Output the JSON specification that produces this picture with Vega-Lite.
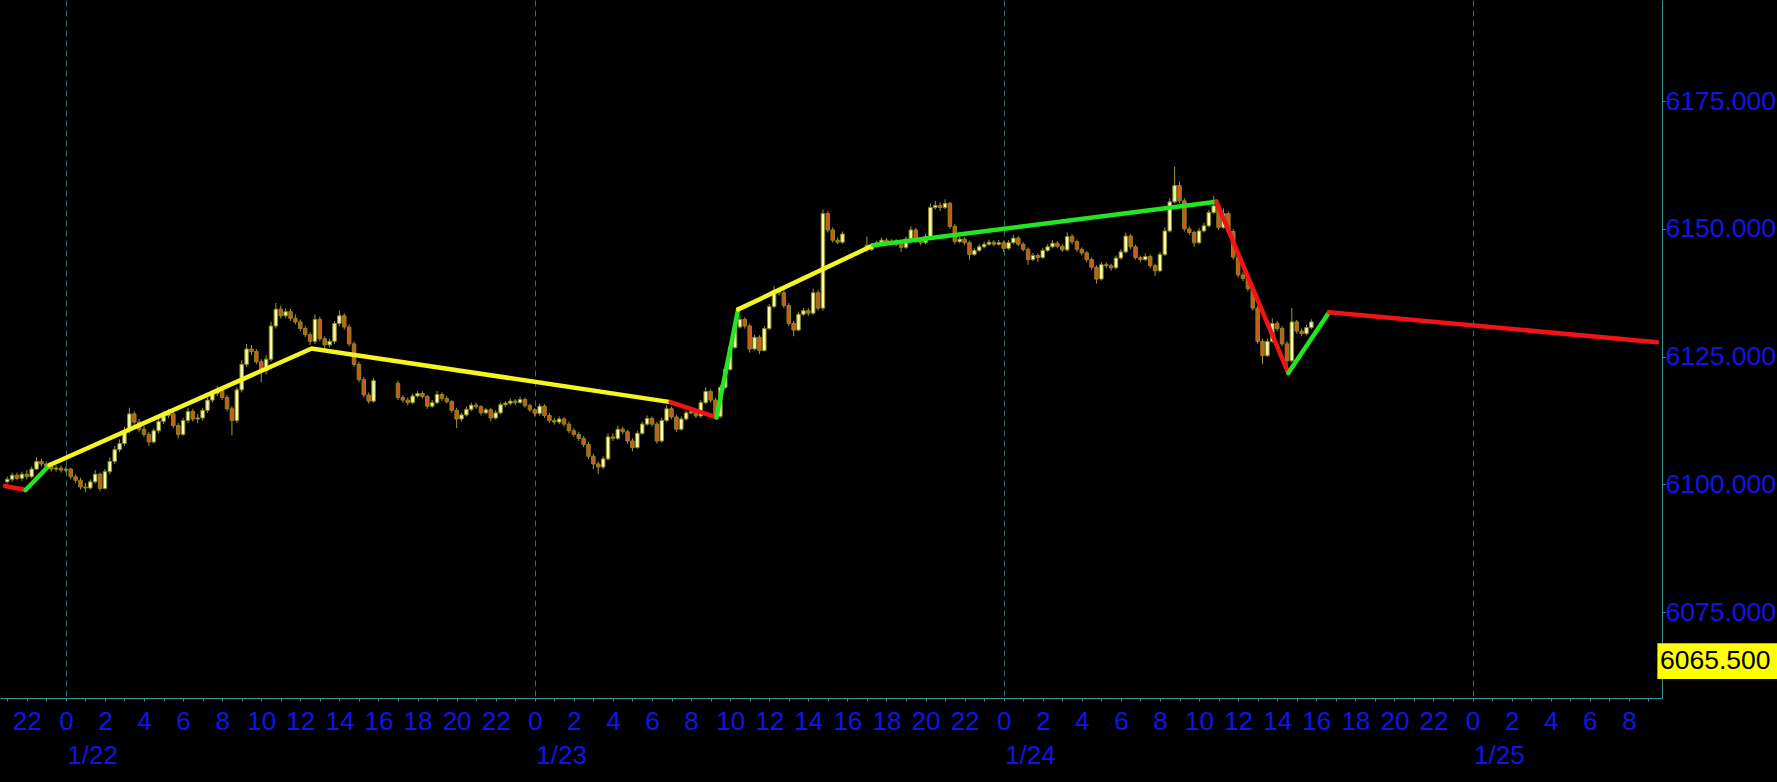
{
  "$schema": "https://vega.github.io/schema/vega-lite/v6.json",
  "width": 1662,
  "height": 698,
  "autosize": {"type": "none"},
  "padding": {"left": 0, "top": 0, "right": 115, "bottom": 84},
  "background": "#000000",
  "config": {"view": {"stroke": null}},
  "datasets": {
    "bars": [
      {"t":-3,"o":6100.5,"h":6101.5,"l":6100.2,"c":6101.0},
      {"t":-2.75,"o":6101.0,"h":6102.3,"l":6100.5,"c":6101.8},
      {"t":-2.5,"o":6101.8,"h":6102.3,"l":6100.8,"c":6101.2},
      {"t":-2.25,"o":6101.2,"h":6102.5,"l":6100.7,"c":6102.0},
      {"t":-2,"o":6102.0,"h":6102.8,"l":6101.0,"c":6101.5},
      {"t":-1.75,"o":6101.5,"h":6103.5,"l":6101.2,"c":6103.0},
      {"t":-1.5,"o":6103.0,"h":6105.3,"l":6102.8,"c":6104.5},
      {"t":-1.25,"o":6104.5,"h":6105.0,"l":6103.5,"c":6104.0},
      {"t":-1,"o":6104.0,"h":6104.5,"l":6103.0,"c":6103.5},
      {"t":-0.75,"o":6103.5,"h":6104.0,"l":6102.5,"c":6103.0},
      {"t":-0.5,"o":6103.0,"h":6103.8,"l":6102.5,"c":6103.2},
      {"t":-0.25,"o":6103.2,"h":6103.7,"l":6102.3,"c":6102.8},
      {"t":0,"o":6102.8,"h":6103.5,"l":6102.3,"c":6103.0},
      {"t":0.25,"o":6103.0,"h":6103.3,"l":6101.0,"c":6101.5},
      {"t":0.5,"o":6101.5,"h":6102.0,"l":6100.3,"c":6100.8},
      {"t":0.75,"o":6100.8,"h":6101.3,"l":6099.0,"c":6099.5},
      {"t":1,"o":6099.5,"h":6100.3,"l":6098.5,"c":6099.3},
      {"t":1.25,"o":6099.3,"h":6101.0,"l":6099.0,"c":6100.5},
      {"t":1.5,"o":6100.5,"h":6102.8,"l":6100.2,"c":6102.0},
      {"t":1.75,"o":6102.0,"h":6102.3,"l":6098.7,"c":6099.2},
      {"t":2,"o":6099.2,"h":6103.0,"l":6099.0,"c":6102.5},
      {"t":2.25,"o":6102.5,"h":6105.3,"l":6102.0,"c":6104.5},
      {"t":2.5,"o":6104.5,"h":6107.5,"l":6104.0,"c":6106.8},
      {"t":2.75,"o":6106.8,"h":6108.8,"l":6106.3,"c":6108.0},
      {"t":3,"o":6108.0,"h":6111.3,"l":6107.5,"c":6110.5},
      {"t":3.25,"o":6110.5,"h":6115.0,"l":6110.0,"c":6113.8},
      {"t":3.5,"o":6113.8,"h":6114.3,"l":6111.5,"c":6112.2},
      {"t":3.75,"o":6112.2,"h":6112.8,"l":6110.3,"c":6110.8},
      {"t":4,"o":6110.8,"h":6111.5,"l":6109.3,"c":6109.8},
      {"t":4.25,"o":6109.8,"h":6110.3,"l":6107.5,"c":6108.3},
      {"t":4.5,"o":6108.3,"h":6111.0,"l":6108.0,"c":6110.5},
      {"t":4.75,"o":6110.5,"h":6113.0,"l":6110.0,"c":6112.3},
      {"t":5,"o":6112.3,"h":6114.3,"l":6111.8,"c":6113.5},
      {"t":5.25,"o":6113.5,"h":6114.8,"l":6113.0,"c":6113.8},
      {"t":5.5,"o":6113.8,"h":6114.3,"l":6111.0,"c":6111.5},
      {"t":5.75,"o":6111.5,"h":6112.0,"l":6109.0,"c":6109.8},
      {"t":6,"o":6109.8,"h":6113.0,"l":6109.5,"c":6112.5},
      {"t":6.25,"o":6112.5,"h":6115.0,"l":6112.0,"c":6114.3},
      {"t":6.5,"o":6114.3,"h":6114.8,"l":6112.3,"c":6112.8},
      {"t":6.75,"o":6112.8,"h":6113.8,"l":6112.0,"c":6113.0},
      {"t":7,"o":6113.0,"h":6115.0,"l":6112.5,"c":6114.5},
      {"t":7.25,"o":6114.5,"h":6117.0,"l":6114.0,"c":6116.5},
      {"t":7.5,"o":6116.5,"h":6118.5,"l":6116.0,"c":6117.8},
      {"t":7.75,"o":6117.8,"h":6119.3,"l":6117.3,"c":6118.5},
      {"t":8,"o":6118.5,"h":6119.0,"l":6116.5,"c":6117.0},
      {"t":8.25,"o":6117.0,"h":6117.5,"l":6114.3,"c":6114.8},
      {"t":8.5,"o":6114.8,"h":6115.3,"l":6109.6,"c":6112.5},
      {"t":8.75,"o":6112.5,"h":6119.0,"l":6112.0,"c":6118.5},
      {"t":9,"o":6118.5,"h":6124.3,"l":6118.0,"c":6123.5},
      {"t":9.25,"o":6123.5,"h":6127.5,"l":6123.0,"c":6126.5},
      {"t":9.5,"o":6126.5,"h":6127.3,"l":6125.3,"c":6126.0},
      {"t":9.75,"o":6126.0,"h":6126.5,"l":6123.5,"c":6124.0},
      {"t":10,"o":6124.0,"h":6124.5,"l":6120.0,"c":6122.2},
      {"t":10.25,"o":6122.2,"h":6125.3,"l":6121.5,"c":6124.5},
      {"t":10.5,"o":6124.5,"h":6131.8,"l":6124.0,"c":6131.0},
      {"t":10.75,"o":6131.0,"h":6135.5,"l":6130.5,"c":6134.3},
      {"t":11,"o":6134.3,"h":6135.0,"l":6132.5,"c":6133.0},
      {"t":11.25,"o":6133.0,"h":6134.5,"l":6132.5,"c":6133.8},
      {"t":11.5,"o":6133.8,"h":6134.3,"l":6132.0,"c":6132.5},
      {"t":11.75,"o":6132.5,"h":6133.3,"l":6131.3,"c":6131.8},
      {"t":12,"o":6131.8,"h":6132.3,"l":6130.0,"c":6130.5},
      {"t":12.25,"o":6130.5,"h":6131.0,"l":6128.8,"c":6129.3},
      {"t":12.5,"o":6129.3,"h":6129.8,"l":6127.3,"c":6128.0},
      {"t":12.75,"o":6128.0,"h":6133.3,"l":6127.5,"c":6132.3},
      {"t":13,"o":6132.3,"h":6132.8,"l":6128.0,"c":6128.5},
      {"t":13.25,"o":6128.5,"h":6129.0,"l":6126.5,"c":6127.3},
      {"t":13.5,"o":6127.3,"h":6128.5,"l":6126.8,"c":6128.0},
      {"t":13.75,"o":6128.0,"h":6132.0,"l":6127.5,"c":6131.5},
      {"t":14,"o":6131.5,"h":6134.0,"l":6131.0,"c":6133.0},
      {"t":14.25,"o":6133.0,"h":6133.5,"l":6130.3,"c":6130.8},
      {"t":14.5,"o":6130.8,"h":6131.3,"l":6127.0,"c":6127.5},
      {"t":14.75,"o":6127.5,"h":6128.0,"l":6123.0,"c":6123.5},
      {"t":15,"o":6123.5,"h":6124.0,"l":6120.0,"c":6120.5},
      {"t":15.25,"o":6120.5,"h":6121.0,"l":6117.0,"c":6117.5},
      {"t":15.5,"o":6117.5,"h":6118.0,"l":6115.8,"c":6116.3},
      {"t":15.75,"o":6116.3,"h":6120.8,"l":6116.0,"c":6120.3},
      {"t":17,"o":6119.8,"h":6120.3,"l":6116.5,"c":6117.0},
      {"t":17.25,"o":6117.0,"h":6117.5,"l":6116.0,"c":6116.5},
      {"t":17.5,"o":6116.5,"h":6117.0,"l":6115.5,"c":6116.0},
      {"t":17.75,"o":6116.0,"h":6117.8,"l":6115.7,"c":6117.3},
      {"t":18,"o":6117.3,"h":6118.3,"l":6117.0,"c":6117.8},
      {"t":18.25,"o":6117.8,"h":6118.2,"l":6116.8,"c":6117.2},
      {"t":18.5,"o":6117.2,"h":6117.5,"l":6114.8,"c":6115.3},
      {"t":18.75,"o":6115.3,"h":6116.5,"l":6115.0,"c":6116.0},
      {"t":19,"o":6116.0,"h":6118.3,"l":6115.7,"c":6117.6},
      {"t":19.25,"o":6117.6,"h":6118.0,"l":6116.3,"c":6116.8},
      {"t":19.5,"o":6116.8,"h":6117.3,"l":6115.8,"c":6116.2},
      {"t":19.75,"o":6116.2,"h":6116.5,"l":6114.0,"c":6114.5},
      {"t":20,"o":6114.5,"h":6115.0,"l":6111.0,"c":6112.8},
      {"t":20.25,"o":6112.8,"h":6114.0,"l":6112.3,"c":6113.6},
      {"t":20.5,"o":6113.6,"h":6115.3,"l":6113.3,"c":6114.7},
      {"t":20.75,"o":6114.7,"h":6116.0,"l":6114.3,"c":6115.5},
      {"t":21,"o":6115.5,"h":6116.0,"l":6114.8,"c":6115.2},
      {"t":21.25,"o":6115.2,"h":6115.5,"l":6113.5,"c":6114.0},
      {"t":21.5,"o":6114.0,"h":6115.0,"l":6113.7,"c":6114.6},
      {"t":21.75,"o":6114.6,"h":6115.0,"l":6112.3,"c":6113.0},
      {"t":22,"o":6113.0,"h":6114.5,"l":6112.7,"c":6114.0},
      {"t":22.25,"o":6114.0,"h":6116.0,"l":6113.7,"c":6115.6},
      {"t":22.5,"o":6115.6,"h":6116.3,"l":6115.2,"c":6115.9},
      {"t":22.75,"o":6115.9,"h":6116.8,"l":6115.5,"c":6116.3},
      {"t":23,"o":6116.3,"h":6116.7,"l":6115.5,"c":6116.0},
      {"t":23.25,"o":6116.0,"h":6117.2,"l":6115.8,"c":6116.6},
      {"t":23.5,"o":6116.6,"h":6117.0,"l":6115.0,"c":6115.4},
      {"t":23.75,"o":6115.4,"h":6115.8,"l":6114.2,"c":6114.6},
      {"t":24,"o":6114.6,"h":6115.0,"l":6113.3,"c":6113.9},
      {"t":24.25,"o":6113.9,"h":6115.8,"l":6113.5,"c":6115.3},
      {"t":24.5,"o":6115.3,"h":6115.7,"l":6113.0,"c":6113.5},
      {"t":24.75,"o":6113.5,"h":6114.0,"l":6112.0,"c":6112.5},
      {"t":25,"o":6112.5,"h":6113.0,"l":6111.7,"c":6112.2},
      {"t":25.25,"o":6112.2,"h":6113.3,"l":6111.8,"c":6112.8},
      {"t":25.5,"o":6112.8,"h":6113.2,"l":6111.3,"c":6111.8},
      {"t":25.75,"o":6111.8,"h":6112.3,"l":6110.0,"c":6110.5},
      {"t":26,"o":6110.5,"h":6111.0,"l":6109.3,"c":6109.8},
      {"t":26.25,"o":6109.8,"h":6110.3,"l":6108.5,"c":6109.0},
      {"t":26.5,"o":6109.0,"h":6109.5,"l":6107.3,"c":6107.8},
      {"t":26.75,"o":6107.8,"h":6108.3,"l":6105.0,"c":6105.5},
      {"t":27,"o":6105.5,"h":6106.0,"l":6103.0,"c":6104.0},
      {"t":27.25,"o":6104.0,"h":6104.5,"l":6102.0,"c":6103.4},
      {"t":27.5,"o":6103.4,"h":6105.5,"l":6103.0,"c":6105.0},
      {"t":27.75,"o":6105.0,"h":6110.0,"l":6104.7,"c":6109.3},
      {"t":28,"o":6109.3,"h":6110.0,"l":6108.5,"c":6109.0},
      {"t":28.25,"o":6109.0,"h":6111.5,"l":6108.7,"c":6110.8},
      {"t":28.5,"o":6110.8,"h":6111.3,"l":6109.8,"c":6110.3},
      {"t":28.75,"o":6110.3,"h":6110.7,"l":6108.0,"c":6108.5},
      {"t":29,"o":6108.5,"h":6109.0,"l":6106.5,"c":6107.2},
      {"t":29.25,"o":6107.2,"h":6110.5,"l":6107.0,"c":6110.0},
      {"t":29.5,"o":6110.0,"h":6112.3,"l":6109.7,"c":6111.8},
      {"t":29.75,"o":6111.8,"h":6113.5,"l":6111.5,"c":6112.9},
      {"t":30,"o":6112.9,"h":6113.3,"l":6111.3,"c":6111.8},
      {"t":30.25,"o":6111.8,"h":6112.2,"l":6108.0,"c":6108.5},
      {"t":30.5,"o":6108.5,"h":6113.0,"l":6108.2,"c":6112.5},
      {"t":30.75,"o":6112.5,"h":6115.5,"l":6112.2,"c":6114.8},
      {"t":31,"o":6114.8,"h":6115.2,"l":6112.8,"c":6113.2},
      {"t":31.25,"o":6113.2,"h":6113.6,"l":6110.3,"c":6110.8},
      {"t":31.5,"o":6110.8,"h":6113.3,"l":6110.5,"c":6112.8},
      {"t":31.75,"o":6112.8,"h":6114.5,"l":6112.5,"c":6114.0},
      {"t":32,"o":6114.0,"h":6114.7,"l":6113.7,"c":6114.2},
      {"t":32.25,"o":6114.2,"h":6114.6,"l":6113.0,"c":6113.4},
      {"t":32.5,"o":6113.4,"h":6116.5,"l":6113.0,"c":6116.0},
      {"t":32.75,"o":6116.0,"h":6119.0,"l":6115.7,"c":6118.2},
      {"t":33,"o":6118.2,"h":6118.6,"l":6116.0,"c":6116.5},
      {"t":33.25,"o":6116.5,"h":6117.0,"l":6112.8,"c":6113.3},
      {"t":33.5,"o":6113.3,"h":6119.5,"l":6113.0,"c":6119.0},
      {"t":33.75,"o":6119.0,"h":6123.0,"l":6118.7,"c":6122.5},
      {"t":34,"o":6122.5,"h":6127.3,"l":6122.2,"c":6126.8},
      {"t":34.25,"o":6126.8,"h":6131.3,"l":6126.5,"c":6130.8},
      {"t":34.5,"o":6130.8,"h":6133.0,"l":6130.5,"c":6132.3},
      {"t":34.75,"o":6132.3,"h":6132.7,"l":6130.5,"c":6131.0},
      {"t":35,"o":6131.0,"h":6131.5,"l":6125.8,"c":6126.5},
      {"t":35.25,"o":6126.5,"h":6129.3,"l":6126.2,"c":6128.8},
      {"t":35.5,"o":6128.8,"h":6129.2,"l":6125.5,"c":6126.2},
      {"t":35.75,"o":6126.2,"h":6131.0,"l":6126.0,"c":6130.5},
      {"t":36,"o":6130.5,"h":6135.3,"l":6130.2,"c":6134.8},
      {"t":36.25,"o":6134.8,"h":6138.8,"l":6134.5,"c":6138.0},
      {"t":36.5,"o":6138.0,"h":6138.5,"l":6137.0,"c":6137.5},
      {"t":36.75,"o":6137.5,"h":6138.0,"l":6134.5,"c":6135.0},
      {"t":37,"o":6135.0,"h":6135.5,"l":6131.0,"c":6131.5},
      {"t":37.25,"o":6131.5,"h":6132.0,"l":6129.0,"c":6130.2},
      {"t":37.5,"o":6130.2,"h":6133.8,"l":6130.0,"c":6133.3},
      {"t":37.75,"o":6133.3,"h":6134.5,"l":6133.0,"c":6134.0},
      {"t":38,"o":6134.0,"h":6134.5,"l":6133.0,"c":6133.5},
      {"t":38.25,"o":6133.5,"h":6138.3,"l":6133.2,"c":6137.5},
      {"t":38.5,"o":6137.5,"h":6138.0,"l":6134.0,"c":6134.5},
      {"t":38.75,"o":6134.5,"h":6153.8,"l":6134.0,"c":6153.0},
      {"t":39,"o":6153.0,"h":6153.5,"l":6149.3,"c":6149.8},
      {"t":39.25,"o":6149.8,"h":6150.3,"l":6147.3,"c":6147.8},
      {"t":39.5,"o":6147.8,"h":6148.3,"l":6147.0,"c":6147.4},
      {"t":39.75,"o":6147.4,"h":6149.5,"l":6147.1,"c":6149.0},
      {"t":41,"o":6146.8,"h":6148.5,"l":6145.5,"c":6146.0},
      {"t":41.25,"o":6146.0,"h":6147.2,"l":6145.7,"c":6146.7},
      {"t":41.5,"o":6146.7,"h":6147.7,"l":6146.3,"c":6147.3},
      {"t":41.75,"o":6147.3,"h":6148.3,"l":6147.0,"c":6147.8},
      {"t":42,"o":6147.8,"h":6148.2,"l":6146.8,"c":6147.2},
      {"t":42.25,"o":6147.2,"h":6148.0,"l":6146.9,"c":6147.6},
      {"t":42.5,"o":6147.6,"h":6148.0,"l":6146.6,"c":6147.0},
      {"t":42.75,"o":6147.0,"h":6147.4,"l":6145.5,"c":6146.4},
      {"t":43,"o":6146.4,"h":6148.5,"l":6146.1,"c":6148.0},
      {"t":43.25,"o":6148.0,"h":6150.5,"l":6147.7,"c":6149.8},
      {"t":43.5,"o":6149.8,"h":6150.2,"l":6147.2,"c":6147.6},
      {"t":43.75,"o":6147.6,"h":6148.0,"l":6146.8,"c":6147.3},
      {"t":44,"o":6147.3,"h":6149.0,"l":6147.0,"c":6148.5},
      {"t":44.25,"o":6148.5,"h":6155.0,"l":6148.2,"c":6154.2},
      {"t":44.5,"o":6154.2,"h":6155.5,"l":6153.8,"c":6154.6},
      {"t":44.75,"o":6154.6,"h":6155.2,"l":6153.5,"c":6154.2},
      {"t":45,"o":6154.2,"h":6155.8,"l":6153.9,"c":6155.0},
      {"t":45.25,"o":6155.0,"h":6155.3,"l":6150.0,"c":6150.5},
      {"t":45.5,"o":6150.5,"h":6151.0,"l":6147.0,"c":6147.5},
      {"t":45.75,"o":6147.5,"h":6148.5,"l":6147.2,"c":6148.0},
      {"t":46,"o":6148.0,"h":6148.4,"l":6146.8,"c":6147.3},
      {"t":46.25,"o":6147.3,"h":6147.7,"l":6144.0,"c":6145.0},
      {"t":46.5,"o":6145.0,"h":6146.2,"l":6144.7,"c":6145.8},
      {"t":46.75,"o":6145.8,"h":6147.0,"l":6145.5,"c":6146.5},
      {"t":47,"o":6146.5,"h":6147.5,"l":6146.2,"c":6147.0},
      {"t":47.25,"o":6147.0,"h":6147.9,"l":6146.7,"c":6147.4},
      {"t":47.5,"o":6147.4,"h":6147.8,"l":6146.6,"c":6147.0},
      {"t":47.75,"o":6147.0,"h":6147.8,"l":6146.7,"c":6147.3},
      {"t":48,"o":6147.3,"h":6147.7,"l":6145.5,"c":6146.2},
      {"t":48.25,"o":6146.2,"h":6147.8,"l":6145.9,"c":6147.3},
      {"t":48.5,"o":6147.3,"h":6148.8,"l":6147.0,"c":6148.2},
      {"t":48.75,"o":6148.2,"h":6148.6,"l":6146.6,"c":6147.0},
      {"t":49,"o":6147.0,"h":6147.4,"l":6145.6,"c":6146.0},
      {"t":49.25,"o":6146.0,"h":6146.4,"l":6143.0,"c":6144.0},
      {"t":49.5,"o":6144.0,"h":6145.3,"l":6143.7,"c":6144.8},
      {"t":49.75,"o":6144.8,"h":6145.2,"l":6143.5,"c":6144.4},
      {"t":50,"o":6144.4,"h":6146.3,"l":6144.1,"c":6145.8},
      {"t":50.25,"o":6145.8,"h":6147.0,"l":6145.5,"c":6146.5},
      {"t":50.5,"o":6146.5,"h":6147.8,"l":6146.2,"c":6147.2},
      {"t":50.75,"o":6147.2,"h":6147.6,"l":6146.2,"c":6146.6},
      {"t":51,"o":6146.6,"h":6147.0,"l":6145.5,"c":6145.9},
      {"t":51.25,"o":6145.9,"h":6149.3,"l":6145.6,"c":6148.5},
      {"t":51.5,"o":6148.5,"h":6149.0,"l":6147.0,"c":6147.5},
      {"t":51.75,"o":6147.5,"h":6147.9,"l":6145.5,"c":6146.0},
      {"t":52,"o":6146.0,"h":6146.4,"l":6144.8,"c":6145.3},
      {"t":52.25,"o":6145.3,"h":6145.7,"l":6143.5,"c":6144.0},
      {"t":52.5,"o":6144.0,"h":6144.4,"l":6142.0,"c":6142.5},
      {"t":52.75,"o":6142.5,"h":6142.9,"l":6139.3,"c":6140.2},
      {"t":53,"o":6140.2,"h":6143.5,"l":6139.9,"c":6143.0},
      {"t":53.25,"o":6143.0,"h":6143.5,"l":6142.3,"c":6142.8},
      {"t":53.5,"o":6142.8,"h":6143.2,"l":6141.8,"c":6142.4},
      {"t":53.75,"o":6142.4,"h":6144.8,"l":6142.1,"c":6144.3},
      {"t":54,"o":6144.3,"h":6146.0,"l":6144.0,"c":6145.5},
      {"t":54.25,"o":6145.5,"h":6149.3,"l":6145.2,"c":6148.6},
      {"t":54.5,"o":6148.6,"h":6149.0,"l":6146.0,"c":6146.5},
      {"t":54.75,"o":6146.5,"h":6146.9,"l":6144.0,"c":6144.4},
      {"t":55,"o":6144.4,"h":6144.8,"l":6143.5,"c":6144.0},
      {"t":55.25,"o":6144.0,"h":6145.2,"l":6143.7,"c":6144.6},
      {"t":55.5,"o":6144.6,"h":6145.0,"l":6142.3,"c":6142.8},
      {"t":55.75,"o":6142.8,"h":6143.2,"l":6140.8,"c":6141.8},
      {"t":56,"o":6141.8,"h":6145.5,"l":6141.5,"c":6145.0},
      {"t":56.25,"o":6145.0,"h":6150.3,"l":6144.7,"c":6149.6},
      {"t":56.5,"o":6149.6,"h":6156.0,"l":6149.3,"c":6155.3},
      {"t":56.75,"o":6155.3,"h":6162.2,"l":6155.0,"c":6158.5},
      {"t":57,"o":6158.5,"h":6159.3,"l":6155.0,"c":6155.5},
      {"t":57.25,"o":6155.5,"h":6156.0,"l":6149.5,"c":6150.0},
      {"t":57.5,"o":6150.0,"h":6150.5,"l":6148.8,"c":6149.3},
      {"t":57.75,"o":6149.3,"h":6149.7,"l":6146.5,"c":6147.3},
      {"t":58,"o":6147.3,"h":6150.2,"l":6147.0,"c":6149.6},
      {"t":58.25,"o":6149.6,"h":6151.2,"l":6149.3,"c":6150.6},
      {"t":58.5,"o":6150.6,"h":6153.7,"l":6150.3,"c":6153.2},
      {"t":58.75,"o":6153.2,"h":6156.5,"l":6152.9,"c":6154.5},
      {"t":59,"o":6154.5,"h":6155.0,"l":6149.8,"c":6150.3},
      {"t":59.25,"o":6150.3,"h":6154.0,"l":6150.0,"c":6153.0},
      {"t":59.5,"o":6153.0,"h":6153.4,"l":6149.0,"c":6149.5},
      {"t":59.75,"o":6149.5,"h":6150.0,"l":6144.0,"c":6144.5},
      {"t":60,"o":6144.5,"h":6145.0,"l":6140.5,"c":6141.0},
      {"t":60.25,"o":6141.0,"h":6141.5,"l":6139.8,"c":6140.3},
      {"t":60.5,"o":6140.3,"h":6140.8,"l":6137.8,"c":6138.3},
      {"t":60.75,"o":6138.3,"h":6138.8,"l":6134.0,"c":6134.5},
      {"t":61,"o":6134.5,"h":6135.0,"l":6127.5,"c":6128.0},
      {"t":61.25,"o":6128.0,"h":6128.5,"l":6123.5,"c":6125.2},
      {"t":61.5,"o":6125.2,"h":6128.5,"l":6124.9,"c":6128.0},
      {"t":61.75,"o":6128.0,"h":6132.5,"l":6127.7,"c":6131.5},
      {"t":62,"o":6131.5,"h":6132.0,"l":6130.0,"c":6130.5},
      {"t":62.25,"o":6130.5,"h":6131.0,"l":6127.0,"c":6127.5},
      {"t":62.5,"o":6127.5,"h":6128.0,"l":6123.0,"c":6124.2},
      {"t":62.75,"o":6124.2,"h":6134.5,"l":6123.9,"c":6131.8},
      {"t":63,"o":6131.8,"h":6132.2,"l":6129.5,"c":6130.0},
      {"t":63.25,"o":6130.0,"h":6130.5,"l":6129.0,"c":6129.5},
      {"t":63.5,"o":6129.5,"h":6131.2,"l":6129.2,"c":6130.7},
      {"t":63.75,"o":6130.7,"h":6132.3,"l":6130.4,"c":6131.8}
    ],
    "zz": [
      {"seg":1,"kind":"down","t":-3.115,"v":6099.7},
      {"seg":1,"kind":"down","t":-2.06,"v":6098.9},
      {"seg":2,"kind":"up","t":-2.06,"v":6098.9},
      {"seg":2,"kind":"up","t":-0.83,"v":6103.8},
      {"seg":3,"kind":"trend","t":-0.83,"v":6103.8},
      {"seg":3,"kind":"trend","t":12.58,"v":6126.6},
      {"seg":3,"kind":"trend","t":30.95,"v":6116.1},
      {"seg":5,"kind":"down","t":30.95,"v":6116.1},
      {"seg":5,"kind":"down","t":33.3,"v":6113.1},
      {"seg":6,"kind":"up","t":33.3,"v":6113.1},
      {"seg":6,"kind":"up","t":34.41,"v":6134.25},
      {"seg":7,"kind":"trend","t":34.41,"v":6134.25},
      {"seg":7,"kind":"trend","t":41.33,"v":6146.8},
      {"seg":8,"kind":"up","t":41.33,"v":6146.8},
      {"seg":8,"kind":"up","t":58.89,"v":6155.3},
      {"seg":9,"kind":"down","t":58.89,"v":6155.3},
      {"seg":9,"kind":"down","t":62.57,"v":6121.8},
      {"seg":10,"kind":"up","t":62.57,"v":6121.8},
      {"seg":10,"kind":"up","t":64.66,"v":6133.7},
      {"seg":11,"kind":"down","t":64.66,"v":6133.7},
      {"seg":11,"kind":"down","t":81.44,"v":6127.8}
    ],
    "tag": [{"price":6065.5,"label":"6065.500"}]
  },
  "resolve": {"axis": {"x": "independent", "y": "independent"}},
  "layer": [
    {
      "data": {"name": "bars"},
      "mark": {"type": "rule", "color": "#9c9c2c", "strokeWidth": 1},
      "encoding": {
        "x": {
          "field": "t", "type": "quantitative",
          "scale": {"domain": [-3.115, 81.44], "nice": false, "zero": false},
          "axis": {
            "orient": "bottom", "title": null, "grid": false,
            "values": [-3,-2,-1,0,1,2,3,4,5,6,7,8,9,10,11,12,13,14,15,16,17,18,19,20,21,22,23,24,25,26,27,28,29,30,31,32,33,34,35,36,37,38,39,40,41,42,43,44,45,46,47,48,49,50,51,52,53,54,55,56,57,58,59,60,61,62,63,64,65,66,67,68,69,70,71,72,73,74,75,76,77,78,79,80,81],
            "labelExpr": "(((datum.value % 24) + 24) % 24) % 2 == 0 ? '' + (((datum.value % 24) + 24) % 24) : ''",
            "domainColor": "#3c9696", "domainWidth": 1,
            "tickColor": "#3c9696", "tickSize": 3, "tickWidth": 1,
            "labelColor": "#1414e6", "labelFont": "Liberation Sans", "labelFontSize": 26,
            "labelPadding": 7.5, "labelAngle": 0,
            "labelOverlap": false, "labelFlush": false, "labelBound": false
          }
        },
        "y": {
          "field": "l", "type": "quantitative",
          "scale": {"domain": [6058.2, 6194.8], "nice": false, "zero": false},
          "axis": {
            "orient": "right", "title": null, "grid": false,
            "values": [6075, 6100, 6125, 6150, 6175], "format": ".3f",
            "domain": true, "domainColor": "#3c9696", "domainWidth": 1,
            "ticks": true, "tickColor": "#3c9696", "tickSize": 3,
            "labelColor": "#1414e6", "labelFont": "Liberation Sans", "labelFontSize": 26.5,
            "labelPadding": 0, "labelAlign": "left", "labelBaseline": "middle",
            "labelOverlap": false, "labelFlush": false, "labelBound": false
          }
        },
        "y2": {"field": "h"}
      }
    },
    {
      "data": {"name": "bars"},
      "mark": {"type": "bar", "width": 3.5, "stroke": "#8a8a24", "strokeWidth": 1},
      "encoding": {
        "x": {"field": "t", "type": "quantitative", "axis": null},
        "y": {"field": "o", "type": "quantitative", "axis": null},
        "y2": {"field": "c"},
        "fill": {"condition": {"test": "datum.c >= datum.o", "value": "#fafaaa"}, "value": "#d2551a"}
      }
    },
    {
      "data": {"name": "zz"},
      "mark": {"type": "line", "strokeWidth": 4.5, "strokeCap": "round", "clip": true},
      "encoding": {
        "x": {
          "field": "t", "type": "quantitative",
          "axis": {
            "orient": "bottom", "title": null,
            "values": [0, 24, 48, 72],
            "labelExpr": "'1/' + (22 + datum.value / 24)",
            "grid": true, "gridColor": "#2a7070", "gridDash": [6, 4], "gridWidth": 1,
            "domain": false, "ticks": false, "tickSize": 0,
            "labelColor": "#1414e6", "labelFont": "Liberation Sans", "labelFontSize": 26,
            "labelPadding": 44, "labelAlign": "left", "labelOffset": 1, "labelAngle": 0,
            "labelOverlap": false, "labelFlush": false, "labelBound": false
          }
        },
        "y": {"field": "v", "type": "quantitative", "axis": null},
        "detail": {"field": "seg"},
        "color": {
          "field": "kind", "type": "nominal", "legend": null,
          "scale": {"domain": ["down", "up", "trend"], "range": ["#f01414", "#22e622", "#f5f522"]}
        }
      }
    },
    {
      "data": {"name": "tag"},
      "mark": {"type": "rect", "color": "#ffff00"},
      "encoding": {
        "x": {"datum": 81.46, "type": "quantitative", "axis": null},
        "x2": {"datum": 90},
        "y": {"datum": 6068.9, "type": "quantitative", "axis": null},
        "y2": {"datum": 6061.9}
      }
    },
    {
      "data": {"name": "tag"},
      "mark": {"type": "text", "color": "#000000", "align": "left", "baseline": "middle", "dx": 3, "font": "Liberation Sans", "fontSize": 26.5},
      "encoding": {
        "x": {"datum": 81.44, "type": "quantitative", "axis": null},
        "y": {"field": "price", "type": "quantitative", "axis": null},
        "text": {"field": "label"}
      }
    }
  ]
}
